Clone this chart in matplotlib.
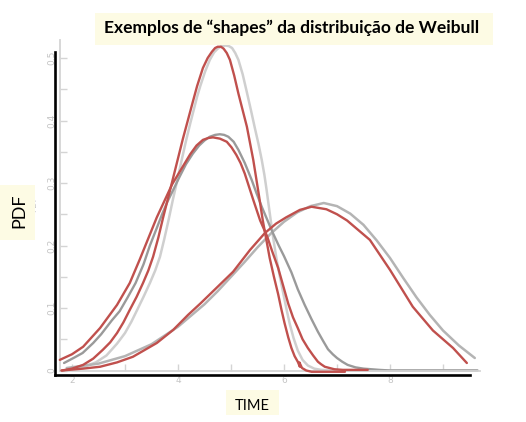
import matplotlib
matplotlib.use("Agg")
import matplotlib.pyplot as plt
from matplotlib.patches import Rectangle
from matplotlib.ticker import FixedLocator

# curvas de referencia (cinza) e curvas desenhadas à mão (vermelho)
tall_gray_x = [1.9, 2.2, 2.45, 2.65, 2.85, 3.0, 3.12, 3.23, 3.35, 3.47, 3.57, 3.66, 3.74, 3.82, 3.9, 3.98,
               4.07, 4.15, 4.23, 4.3, 4.36, 4.42, 4.51, 4.6, 4.68, 4.75, 4.82, 4.9, 4.96, 5.02, 5.08, 5.14,
               5.22, 5.3, 5.38, 5.45, 5.52, 5.58, 5.63, 5.67, 5.71, 5.75, 5.8, 5.86, 5.92, 5.98, 6.05, 6.11,
               6.18, 6.26, 6.35, 6.45, 6.57, 6.7, 6.9, 7.2, 9.65]
tall_gray_y = [0.001, 0.005, 0.013, 0.024, 0.043, 0.06, 0.078, 0.097, 0.118, 0.14, 0.16, 0.182, 0.21, 0.24, 0.272, 0.302,
               0.337, 0.367, 0.395, 0.418, 0.438, 0.455, 0.478, 0.497, 0.509, 0.515, 0.519, 0.52, 0.519, 0.516, 0.508, 0.497,
               0.474, 0.445, 0.415, 0.388, 0.362, 0.337, 0.313, 0.29, 0.265, 0.24, 0.21, 0.178, 0.151, 0.126, 0.097, 0.074,
               0.052, 0.032, 0.017, 0.008, 0.003, 0.001, 0.0, 0.0, 0.0]

mid_gray_x = [1.85, 2.05, 2.2, 2.4, 2.55, 2.75, 2.9, 3.05, 3.2, 3.35, 3.47, 3.6, 3.7, 3.8, 3.91, 4.03,
              4.15, 4.28, 4.4, 4.5, 4.6, 4.7, 4.79, 4.87, 4.95, 5.05, 5.14, 5.26, 5.39, 5.48, 5.58, 5.68,
              5.79, 5.9, 6.0, 6.14, 6.26, 6.39, 6.52, 6.64, 6.74, 6.83, 6.92, 7.0, 7.1, 7.2, 7.35, 7.5,
              7.65, 7.8, 8.0, 8.2, 9.65]
mid_gray_y = [0.012, 0.021, 0.028, 0.044, 0.058, 0.08, 0.095, 0.117, 0.14, 0.17, 0.2, 0.228, 0.25, 0.27, 0.289, 0.31,
              0.33, 0.347, 0.36, 0.368, 0.374, 0.377, 0.378, 0.377, 0.374, 0.366, 0.353, 0.332, 0.305, 0.284, 0.262, 0.242,
              0.22, 0.2, 0.183, 0.157, 0.13, 0.105, 0.082, 0.062, 0.047, 0.034, 0.026, 0.02, 0.014, 0.009, 0.005, 0.003,
              0.002, 0.001, 0.0, 0.0, 0.0]

broad_gray_x = [1.9, 2.5, 3.0, 3.5, 4.0, 4.5, 4.75, 5.0, 5.25, 5.5, 5.75, 6.0, 6.25, 6.5, 6.75,
                7.0, 7.25, 7.5, 7.75, 8.0, 8.25, 8.5, 8.75, 9.0, 9.3, 9.6]
broad_gray_y = [0.004, 0.011, 0.023, 0.042, 0.07, 0.106, 0.127, 0.15, 0.173, 0.197, 0.219, 0.238, 0.253, 0.263, 0.268,
                0.263, 0.251, 0.233, 0.208, 0.18, 0.148, 0.117, 0.089, 0.064, 0.04, 0.02]

tall_red_x = [1.81, 2.0, 2.21, 2.4, 2.58, 2.72, 2.85, 2.97, 3.09, 3.22, 3.34, 3.44, 3.53, 3.63, 3.72, 3.81,
              3.89, 4.09, 4.28, 4.36, 4.47, 4.56, 4.64, 4.7, 4.75, 4.81, 4.86, 4.92, 4.98, 5.06, 5.14, 5.3,
              5.42, 5.52, 5.6, 5.73, 5.81, 5.89, 5.95, 6.01, 6.08, 6.14, 6.2, 6.26, 6.3, 6.29, 6.34, 6.42,
              6.52, 7.15]
tall_red_y = [0.0, 0.003, 0.009, 0.019, 0.033, 0.045, 0.06, 0.077, 0.097, 0.118, 0.14, 0.16, 0.182, 0.213, 0.245, 0.275,
              0.302, 0.37, 0.43, 0.455, 0.484, 0.5, 0.51, 0.516, 0.518, 0.518, 0.515, 0.508, 0.497, 0.472, 0.443, 0.39,
              0.337, 0.284, 0.24, 0.18, 0.15, 0.122, 0.098, 0.076, 0.053, 0.036, 0.023, 0.014, 0.006, 0.013, 0.004, 0.0,
              -0.002, -0.002]

mid_red_x = [1.77, 2.0, 2.21, 2.53, 2.85, 3.09, 3.28, 3.6, 3.89, 4.23, 4.35, 4.47, 4.57, 4.66, 4.79, 4.92,
             5.01, 5.1, 5.18, 5.26, 5.42, 5.55, 5.68, 5.78, 5.89, 5.98, 6.08, 6.17, 6.26, 6.35, 6.45, 6.55,
             6.64, 6.7, 6.77, 6.95, 7.11, 7.58]
mid_red_y = [0.017, 0.026, 0.038, 0.068, 0.105, 0.14, 0.178, 0.245, 0.298, 0.346, 0.36, 0.369, 0.372, 0.373, 0.371, 0.366,
             0.357, 0.345, 0.332, 0.315, 0.273, 0.24, 0.215, 0.19, 0.164, 0.137, 0.107, 0.085, 0.068, 0.05, 0.036, 0.024,
             0.014, 0.01, 0.006, 0.002, 0.001, 0.001]

broad_red_x = [1.8, 2.21, 2.53, 2.85, 3.15, 3.6, 3.91, 4.19, 4.42, 4.7, 5.04, 5.36, 5.64, 5.85, 6.04, 6.3,
               6.52, 6.8, 7.0, 7.19, 7.62, 8.0, 8.43, 8.81, 9.19, 9.45]
broad_red_y = [0.0, 0.003, 0.006, 0.013, 0.022, 0.044, 0.065, 0.089, 0.107, 0.13, 0.158, 0.193, 0.22, 0.235, 0.245, 0.257,
               0.262, 0.258, 0.25, 0.24, 0.209, 0.161, 0.102, 0.064, 0.036, 0.012]

x_ticks = [2, 4, 6, 8]
x_minor = [3, 5, 7, 9]
y_ticks = [0.0, 0.1, 0.2, 0.3, 0.4, 0.5]
y_labels = ["0", "0.1", "0.2", "0.3", "0.4", "0.5"]
y_minor = [0.05, 0.15, 0.25, 0.35, 0.45]

titulo = "Exemplos de “shapes” da distribuição de Weibull"

W, H = 526, 422
fig = plt.figure(figsize=(W / 100, H / 100), dpi=100)


def fbox(x0, y0, x1, y1):
    # pixels (origem no topo) -> fração da figura
    return [x0 / W, 1 - y1 / H, (x1 - x0) / W, (y1 - y0) / H]


def px_to_data(px, py):
    return 2 + (px - 72) / 53, (370.5 - py) / 625


RED = "#c0504d"

# eixo cinza original
xa0, ya0 = px_to_data(59.5, 370.5)
xa1, ya1 = px_to_data(480, 40)
ax = fig.add_axes(fbox(59.5, 40, 480, 370.5))
ax.set_xlim(xa0, xa1)
ax.set_ylim(ya0, ya1)
ax.patch.set_alpha(0)
for s in ["top", "right"]:
    ax.spines[s].set_visible(False)
for s in ["left", "bottom"]:
    ax.spines[s].set_color("#d4d4d4")
    ax.spines[s].set_linewidth(1.3)
ax.xaxis.set_major_locator(FixedLocator(x_ticks))
ax.xaxis.set_minor_locator(FixedLocator(x_minor))
ax.yaxis.set_major_locator(FixedLocator(y_ticks))
ax.yaxis.set_minor_locator(FixedLocator(y_minor))
ax.set_yticklabels(y_labels)
ax.tick_params(which="both", direction="in", color="#d4d4d4", width=1.0, length=5,
               labelcolor="#c4c4c4", labelsize=6.5)
ax.tick_params(axis="x", pad=4)
ax.tick_params(axis="y", pad=2)
for t in ax.get_yticklabels():
    t.set_rotation(90)
    t.set_va("center")
    t.set_ha("right")

kw = dict(clip_on=False, solid_joinstyle="round", solid_capstyle="round")
ax.plot(tall_gray_x, tall_gray_y, color="#cfcfcf", lw=1.8, zorder=2, **kw)
ax.plot(broad_gray_x, broad_gray_y, color="#b4b4b4", lw=1.8, zorder=2, **kw)
ax.plot(mid_gray_x, mid_gray_y, color="#9a9a9a", lw=1.7, zorder=2, **kw)

ax.plot(tall_red_x, tall_red_y, color=RED, lw=1.7, zorder=3, **kw)
ax.plot(mid_red_x, mid_red_y, color=RED, lw=1.7, zorder=3, **kw)
ax.plot(broad_red_x, broad_red_y, color=RED, lw=1.7, zorder=3, **kw)

# eixos pretos desenhados por cima
axb = fig.add_axes(fbox(55, 52, 470, 374.5))
axb.patch.set_alpha(0)
axb.set_xticks([])
axb.set_yticks([])
for s in ["top", "right"]:
    axb.spines[s].set_visible(False)
for s in ["left", "bottom"]:
    axb.spines[s].set_linewidth(1.9)
    axb.spines[s].set_color("black")

# rótulo cinza original, parcialmente coberto
fig.text(34 / W, 1 - 204 / H, "PDF", rotation=90, color="#c8c8c8", fontsize=6,
         ha="center", va="center")

# caixas amarelas
BOX = "#fdfbe4"
for b in [(95, 13, 493, 45), (0, 185, 35, 240), (226, 390, 279, 415)]:
    fig.add_artist(Rectangle((b[0] / W, 1 - b[3] / H), (b[2] - b[0]) / W, (b[3] - b[1]) / H,
                             transform=fig.transFigure, facecolor=BOX, edgecolor="none", zorder=5))

t = fig.text(291.5 / W, 1 - 33.5 / H, titulo, fontsize=12, fontweight="bold",
             family=["Lato", "DejaVu Sans"], ha="center", va="baseline", zorder=6)
fig.canvas.draw()
w = t.get_window_extent().width
t.set_fontsize(12 * 373 / w)

fig.text(19 / W, 1 - 211 / H, "PDF", rotation=90, fontsize=13, family=["Lato", "DejaVu Sans"],
         ha="center", va="center", zorder=6)
fig.text(252.5 / W, 1 - 410 / H, "TIME", fontsize=10.5, family=["Lato", "DejaVu Sans"],
         ha="center", va="baseline", zorder=6)

fig.savefig("out.png", dpi=100)
